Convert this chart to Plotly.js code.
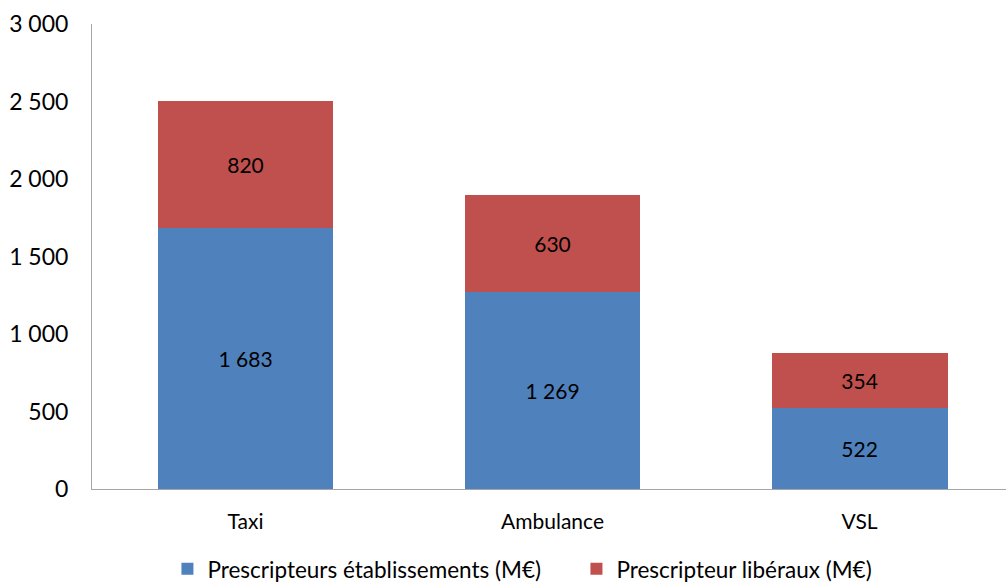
<!DOCTYPE html>
<html>
<head>
<meta charset="utf-8">
<script src="https://cdn.plot.ly/plotly-3.0.1.min.js"></script>
<style>html,body{margin:0;padding:0;background:#fff;}#chart{width:1006px;height:582px;}</style>
</head>
<body>
<div id="chart"></div>
<script>
const categories = ["Taxi", "Ambulance", "VSL"];
const etablissements = [1683, 1269, 522];
const liberaux = [820, 630, 354];
const seriesNames = ["Prescripteurs établissements (M€)", "Prescripteur libéraux (M€)"];
const yTicks = [0, 500, 1000, 1500, 2000, 2500, 3000];

const fontFam = "Lato, 'Open Sans', sans-serif";
const common = {
  type: "bar",
  x: categories,
  width: 0.573,
  texttemplate: "%{y:,.0f}",
  textposition: "inside",
  insidetextanchor: "middle",
  textangle: 0,
  textfont: {family: fontFam, size: 21, color: "#000"},
  hoverinfo: "skip"
};
const data = [
  Object.assign({}, common, {y: etablissements, name: seriesNames[0], marker: {color: "#4f81bd"}}),
  Object.assign({}, common, {y: liberaux, name: seriesNames[1], marker: {color: "#c0504d"}})
];
const layout = {
  width: 1006, height: 582,
  margin: {l: 92, r: 0, t: 24, b: 93},
  barmode: "stack",
  separators: ", ",
  paper_bgcolor: "#fff", plot_bgcolor: "#fff",
  font: {family: fontFam, size: 21, color: "#000"},
  showlegend: true,
  legend: {orientation: "h", xref: "container", yref: "container", x: 0.573, xanchor: "center",
           y: 0.022, yanchor: "middle", itemwidth: 30, entrywidth: 364, entrywidthmode: "pixels",
           font: {family: fontFam, size: 22.5, color: "#000"}, traceorder: "normal"},
  xaxis: {range: [-0.5, 2.477], showline: true, linecolor: "#a6a6a6", linewidth: 1,
          ticks: "", showgrid: false, zeroline: false, fixedrange: true, automargin: false,
          ticklabelstandoff: 14,
          tickfont: {family: fontFam, size: 21, color: "#000"}},
  yaxis: {range: [0, 3000], tickvals: yTicks, tickformat: ",.0f", showline: true, automargin: false,
          linecolor: "#a6a6a6", linewidth: 1, ticks: "", showgrid: false, zeroline: false,
          ticklabelstandoff: 18,
          tickfont: {family: fontFam, size: 23, color: "#000"}}
};
Plotly.newPlot("chart", data, layout, {displayModeBar: false, staticPlot: true});
</script>
</body>
</html>
